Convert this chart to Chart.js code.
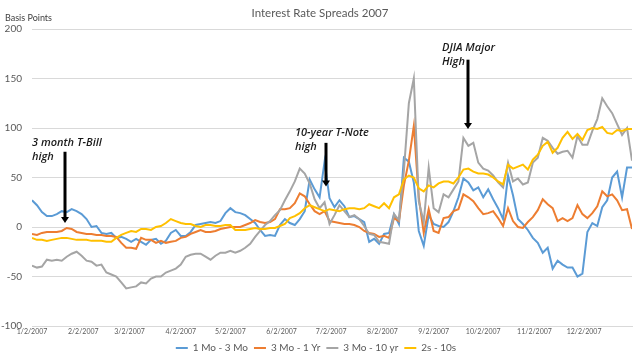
<!DOCTYPE html>
<html>
<head>
<meta charset="utf-8">
<script src="https://cdn.jsdelivr.net/npm/chart.js@4/dist/chart.umd.min.js"></script>
<style>
    html, body { margin: 0; padding: 0; background: #fff; }
    #wrap { width: 640px; height: 360px; }
</style>
</head>
<body>
<div id="wrap"><canvas id="spreads" width="640" height="360"></canvas></div>
<script>
// ── Data (day of year 2007, Jan 1 = 0; spreads in basis points) ───────────────

const days = [
    1, 4, 7, 10, 13, 16, 19, 22, 25, 28, 31, 34, 37, 40, 43, 46, 49, 52, 55, 58,
    61, 64, 67, 70, 73, 76, 79, 82, 85, 88, 91, 94, 97, 100, 103, 106, 109, 112, 115, 118,
    121, 124, 127, 130, 133, 136, 139, 142, 145, 148, 151, 154, 157, 160, 163, 166, 169, 172, 175, 178,
    181, 184, 187, 190, 193, 196, 199, 202, 205, 208, 211, 214, 217, 220, 223, 226, 229, 232, 235, 238,
    241, 244, 247, 250, 253, 256, 259, 262, 265, 268, 271, 274, 277, 280, 283, 286, 289, 292, 295, 298,
    301, 304, 307, 310, 313, 316, 319, 322, 325, 328, 331, 334, 337, 340, 343, 346, 349, 352, 355, 358,
    361, 364
];

const oneMoThreeMo = [
    27, 22, 15, 11, 11, 13, 16, 15, 18, 16,
    13, 8, 0, 1, -6, -7, -6, -11, -10, -12,
    -15, -12, -15, -18, -13, -12, -17, -14, -6, -3,
    -9, -9, -5, 2, 3, 4, 5, 4, 6, 14,
    19, 15, 14, 12, 8, 4, -3, -9, -8, -9,
    2, 8, 4, 2, 8, 16, 48, 38, 30, 66,
    29, 20, 27, 21, 10, 11, 8, 5, -15, -12,
    -17, -7, -6, 13, 3, 70, 66, 45, -4, -19,
    12, 3, 1, 0, 5, 16, 30, 49, 45, 37,
    40, 30, 38, 28, 19, 8, 52, 32, 8, 3,
    -3, -11, -16, -26, -21, -42, -34, -38, -41, -41,
    -50, -47, -5, 4, 1, 20, 27, 50, 56, 30,
    60, 60
];

const threeMoOneYr = [
    -7, -8, -6, -5, -5, -5, -4, -1, -2, -5,
    -6, -7, -7, -8, -8, -9, -9, -10, -16, -21,
    -21, -22, -11, -13, -13, -16, -14, -16, -15, -14,
    -11, -10, -7, -5, -3, -5, -5, -4, -2, -1,
    0, 0, 0, 2, 4, 7, 5, 4, 5, 8,
    18, 18, 19, 24, 34, 31, 23, 16, 13, 16,
    6, 5, 4, 3, 3, 2, 0, -4, -6, -7,
    -10, -9, -11, 9, 6, 42, 67, 102, 30, -6,
    18, -4, -6, 9, 10, 16, 18, 33, 30, 26,
    19, 13, 14, 16, 9, 1, 19, 6, 0, -1,
    5, 10, 17, 28, 23, 19, 6, 9, 6, 9,
    22, 13, 9, 14, 21, 36, 31, 33, 27, 17,
    18, -2
];

const threeMoTenYr = [
    -39, -41, -40, -33, -34, -33, -34, -30, -27, -25,
    -29, -34, -35, -39, -38, -46, -48, -50, -56, -62,
    -61, -60, -56, -57, -52, -50, -50, -46, -44, -42,
    -38, -30, -28, -27, -27, -30, -33, -29, -26, -26,
    -24, -26, -24, -21, -17, -10, -4, 2, 6, 12,
    17, 27, 36, 46, 59, 54, 44, 28, 19, 25,
    3, 12, 22, 16, 10, 12, 8, 1, -7, -8,
    -15, -16, -17, 13, 7, 57, 125, 150, 26, 5,
    60, 19, 15, 33, 30, 38, 46, 90, 82, 85,
    65, 59, 57, 52, 45, 40, 65, 46, 49, 43,
    45, 65, 70, 90, 87, 80, 74, 76, 77, 70,
    92, 83, 83, 97, 109, 130, 122, 115, 104, 93,
    100, 67
];

const twosTens = [
    -11, -13, -13, -14, -13, -12, -11, -11, -12, -13,
    -13, -13, -14, -14, -14, -15, -15, -11, -8, -6,
    -4, -5, -2, -2, -3, 0, 1, 4, 8, 6,
    4, 3, 3, 1, 0, 2, 2, 1, 1, 2,
    2, -3, -3, -3, -2, -1, -2, -2, -1, -1,
    1, 3, 9, 11, 14, 19, 22, 20, 18, 16,
    18, 17, 16, 18, 19, 19, 18, 19, 23, 21,
    19, 24, 19, 30, 33, 48, 52, 50, 39, 36,
    42, 40, 44, 46, 46, 44, 50, 58, 59, 56,
    54, 54, 53, 50, 46, 43, 63, 59, 61, 63,
    58, 68, 73, 82, 86, 75, 80, 90, 96, 89,
    94, 88, 98, 100, 99, 101, 95, 94, 98, 97,
    99, 99
];

const seriesNames  = ['1 Mo - 3 Mo', '3 Mo - 1 Yr', '3 Mo - 10 yr', '2s - 10s'];
const seriesColors = ['#5B9BD5', '#ED7D31', '#A5A5A5', '#FFC000'];

const tickDays   = [1, 32, 60, 91, 121, 152, 182, 213, 244, 274, 305, 335];
const tickLabels = ['1/2/2007', '2/2/2007', '3/2/2007', '4/2/2007', '5/2/2007', '6/2/2007',
                    '7/2/2007', '8/2/2007', '9/2/2007', '10/2/2007', '11/2/2007', '12/2/2007'];

// Annotated events: day of year, arrow top / tip (basis points), caption lines
const notes = [
    { day: 21,  from: 76,  to: 4,  lines: ['3 month T-Bill', 'high'], dx: -33, dy: -9 },
    { day: 179, from: 85,  to: 41, lines: ['10-year T-Note', 'high'], dx: -31, dy: -10 },
    { day: 265, from: 169, to: 99, lines: ['DJIA Major', 'High'],     dx: -26, dy: -12 }
];

// ── Chart ─────────────────────────────────────────────────────────────────────

const FONT = 'Lato, "Liberation Sans", sans-serif';

const decorPlugin = {
    id: 'decor',
    afterDraw(chart) {
        const { ctx, scales: { x, y } } = chart;
        ctx.save();

        ctx.fillStyle = '#595959';
        ctx.font = `11.5px ${FONT}`;
        ctx.textAlign = 'center';
        ctx.textBaseline = 'middle';
        ctx.fillText('Interest Rate Spreads 2007', 320, 13);

        ctx.fillStyle = '#404040';
        ctx.font = `9px ${FONT}`;
        ctx.textAlign = 'left';
        ctx.fillText('Basis Points', 5, 18);

        notes.forEach(n => {
            const px  = Math.round(x.getPixelForValue(n.day));
            const top = y.getPixelForValue(n.from);
            const tip = y.getPixelForValue(n.to);

            ctx.strokeStyle = '#000';
            ctx.lineWidth = 3;
            ctx.beginPath();
            ctx.moveTo(px, top);
            ctx.lineTo(px, tip - 5);
            ctx.stroke();

            ctx.fillStyle = '#000';
            ctx.beginPath();
            ctx.moveTo(px - 4, tip - 6);
            ctx.lineTo(px + 4, tip - 6);
            ctx.lineTo(px, tip);
            ctx.closePath();
            ctx.fill();

            ctx.fillStyle = '#1a1a1a';
            ctx.font = `italic 600 11px "Open Sans", sans-serif`;
            ctx.textAlign = 'left';
            ctx.textBaseline = 'middle';
            n.lines.forEach((t, i) => ctx.fillText(t, px + n.dx, top + n.dy + i * 14.5));
        });

        ctx.restore();
    }
};

const seriesData = [oneMoThreeMo, threeMoOneYr, threeMoTenYr, twosTens];

new Chart(document.getElementById('spreads').getContext('2d'), {
    type: 'line',
    data: {
        datasets: seriesData.map((vals, i) => ({
            label: seriesNames[i],
            data: vals.map((v, j) => ({ x: days[j], y: v })),
            borderColor: seriesColors[i],
            backgroundColor: seriesColors[i],
            borderWidth: 2,
            pointRadius: 0,
            tension: 0,
            order: seriesData.length - i
        }))
    },
    options: {
        responsive: false,
        animation: false,
        layout: { padding: { top: 29, right: 8, left: 0, bottom: -3 } },
        scales: {
            x: {
                type: 'linear', min: 1, max: 364,
                afterBuildTicks: s => { s.ticks = tickDays.map(v => ({ value: v })); },
                afterFit: s => { s.height = 11; },
                ticks: {
                    autoSkip: false, maxRotation: 0, padding: 2,
                    color: '#595959', font: { family: FONT, size: 7 },
                    callback: (v, i) => tickLabels[i]
                },
                grid: { display: false, drawTicks: false },
                border: { color: '#D9D9D9' }
            },
            y: {
                min: -100, max: 200,
                afterFit: s => { s.width = 32; },
                ticks: { stepSize: 50, padding: 10, color: '#595959', font: { family: FONT, size: 10 } },
                grid: { color: '#D9D9D9', drawTicks: false },
                border: { display: false }
            }
        },
        plugins: {
            legend: {
                position: 'bottom',
                labels: {
                    usePointStyle: true, pointStyle: 'line', pointStyleWidth: 12,
                    padding: 6, color: '#595959', font: { family: FONT, size: 10 },
                    sort: (a, b) => a.datasetIndex - b.datasetIndex
                }
            },
            title: { display: false },
            tooltip: { enabled: false }
        }
    },
    plugins: [decorPlugin]
});
</script>
</body>
</html>
